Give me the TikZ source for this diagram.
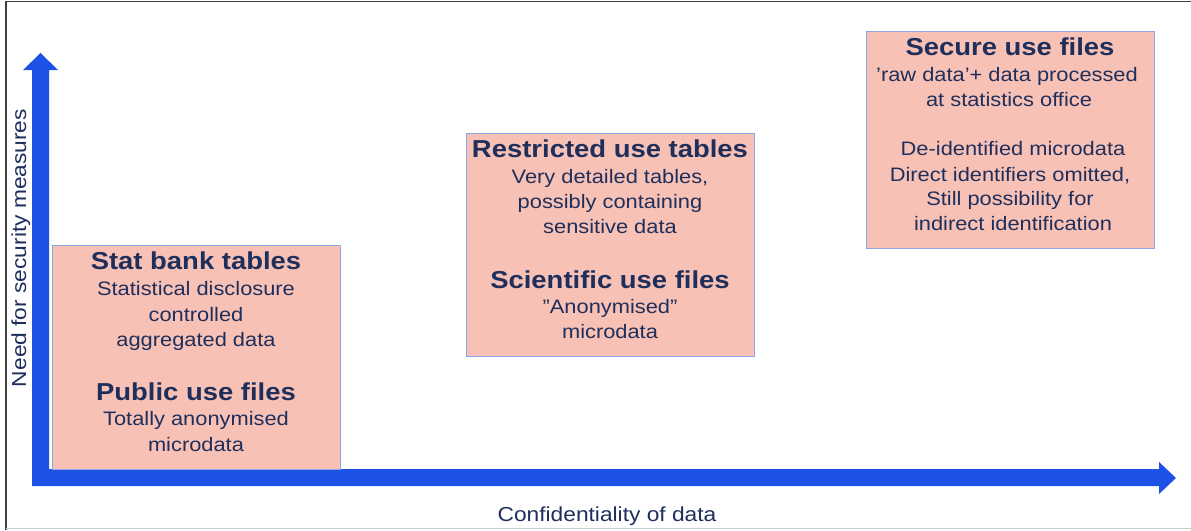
\documentclass[tikz,border=0pt]{standalone}
\usepackage{fontspec}
\setmainfont{Liberation Sans}[FakeStretch=1.12]
\definecolor{axisblue}{HTML}{1C52E6}
\definecolor{boxfill}{HTML}{F8C1B5}
\definecolor{boxedge}{HTML}{8DA6E6}
\definecolor{navy}{HTML}{1F2F5C}
\begin{document}
\begin{tikzpicture}[x=1pt,y=-1pt,
  panel/.style={draw=boxedge,line width=1pt,fill=boxfill},
  ttl/.style={anchor=base,text=navy,font=\fontsize{24.5}{24}\selectfont\bfseries,inner sep=0pt},
  txt/.style={anchor=base,text=navy,font=\fontsize{19.5}{24}\selectfont,inner sep=0pt},
  axlabel/.style={text=navy,font=\fontsize{20.3}{24}\selectfont,inner sep=0pt}]
\useasboundingbox (0,0) rectangle (1191,530);
\fill[white] (0,0) rectangle (1191,530);
% frame
\draw[line width=1.2pt,black!75] (6,530) -- (6,1.5) -- (1191,1.5);
\draw[line width=1pt,black!20] (6,528.5) -- (1191,528.5);
% axes
\coordinate (origin) at (32,486);
\coordinate (ytip) at (40.5,53);
\coordinate (xtip) at (1176,478);
\fill[axisblue] (32,70) -- (23,70) -- (ytip) -- (58,70) -- (49,70) -- (49,469)
  -- (1159,469) -- (1159,462) -- (xtip) -- (1159,494) -- (1159,486) -- (origin) -- cycle;
% boxes
\draw[panel] (52,245) rectangle (340,469);
\draw[panel] (466,133) rectangle (754,356);
\draw[panel] (866,31) rectangle (1154,248);
% box 1
\node[ttl] (t1) at (196,269) {Stat bank tables};
\node[txt] (a1) at (196,295) {Statistical disclosure};
\node[txt] (a2) at (196,321) {controlled};
\node[txt] (a3) at (196,346) {aggregated data};
\node[ttl] (t2) at (196,400) {Public use files};
\node[txt] (b1) at (196,425) {Totally anonymised};
\node[txt] (b2) at (196,451) {microdata};
% box 2
\node[ttl] (t3) at (610,157) {Restricted use tables};
\node[txt] (c1) at (610,183) {Very detailed tables,};
\node[txt] (c2) at (610,208) {possibly containing};
\node[txt] (c3) at (610,233) {sensitive data};
\node[ttl] (t4) at (610,288) {Scientific use files};
\node[txt] (d1) at (610,313) {”Anonymised”};
\node[txt] (d2) at (610,338) {microdata};
% box 3
\node[ttl] (t5) at (1010,55) {Secure use files};
\node[txt] (e1) at (1007,81) {’raw data’+ data processed};
\node[txt] (e2) at (1009,106) {at statistics office};
\node[txt] (f1) at (1013,155) {De-identified microdata};
\node[txt] (f2) at (1010,181) {Direct identifiers omitted,};
\node[txt] (f3) at (1010,205) {Still possibility for};
\node[txt] (f4) at (1013,230) {indirect identification};
% axis labels
\node[axlabel,rotate=90,anchor=base] (ylab) at (26,248) {Need for security measures};
\node[axlabel,anchor=base] (xlab) at (607,521) {Confidentiality of data};
\end{tikzpicture}
\end{document}
